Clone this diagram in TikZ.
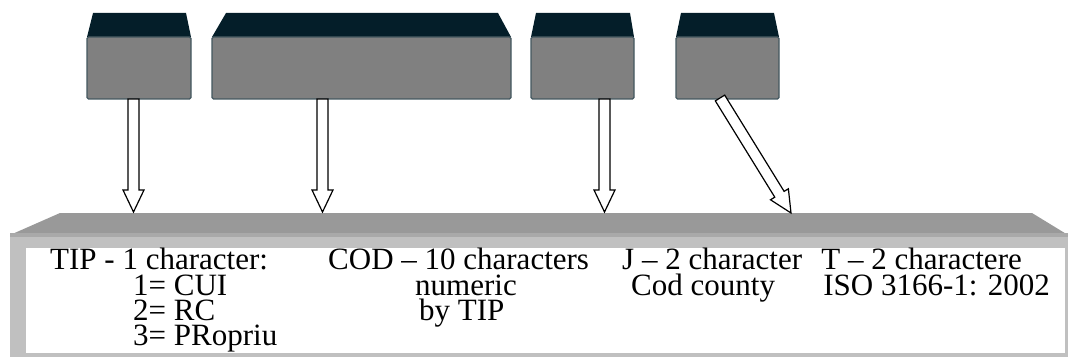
\documentclass[tikz,border=0pt]{standalone}
\usepackage{fontspec}
\setmainfont{Liberation Serif}
\usetikzlibrary{calc}
\definecolor{topdark}{HTML}{041E29}
\definecolor{boxgray}{HTML}{808080}
\definecolor{boxedge}{HTML}{43575F}
\definecolor{slabtop}{HTML}{999999}
\definecolor{slabband}{HTML}{A9A9A9}
\definecolor{slabframe}{HTML}{C0C0C0}
\tikzset{
  frontbox/.style={draw=boxedge, line width=1.3pt, fill=boxgray, rounded corners=1.5pt, inner sep=0pt},
  topface/.style={fill=topdark},
  blockarrow/.style={draw=black, line width=1.2pt, fill=white, line join=miter},
  lbl/.style={anchor=base west, inner sep=0pt, font=\fontsize{31}{31}\selectfont},
  lble/.style={lbl, anchor=base east},
}
\newcommand{\blockarr}[2]{%
  \draw[blockarrow] let \p1=(#1), \p2=(#2),
    \n1={atan2(\y2-\y1,\x2-\x1)}, \n2={veclen(\x2-\x1,\y2-\y1)} in
    [shift={(\p1)}, rotate=\n1]
    (0pt,5.5pt) -- ($(\n2,5.5pt)+(-22pt,0)$) -- ($(\n2,10.5pt)+(-22pt,0)$) -- (\n2,0pt)
    -- ($(\n2,-10.5pt)+(-22pt,0)$) -- ($(\n2,-5.5pt)+(-22pt,0)$) -- (0pt,-5.5pt) -- cycle;}
\begin{document}
\begin{tikzpicture}[x=1pt,y=-1pt]
\useasboundingbox (0,0) rectangle (1070,358);
% slab (bottom box)
\fill[slabtop] (60,213) -- (1032,213) -- (1068,235) -- (10,235) -- cycle;
\node[fill=slabframe, inner sep=0pt, minimum width=1058pt, minimum height=122pt, anchor=north west] (slab) at (10,235) {};
\fill[slabband] (10,233) rectangle (1068,237);
\node[fill=white, inner sep=0pt, minimum width=1039pt, minimum height=105pt, anchor=north west] (inner) at (26,248) {};
% top boxes
\fill[topface] (93,13) -- (186,13) -- (191,37) -- (87,37) -- cycle;
\node[frontbox, minimum width=104pt, minimum height=62pt] (b1) at (139,68) {};
\fill[topface] (226,13) -- (498,13) -- (511,37) -- (212,37) -- cycle;
\node[frontbox, minimum width=299pt, minimum height=62pt] (b2) at (361.5,68) {};
\fill[topface] (536,13) -- (630,13) -- (634,37) -- (531,37) -- cycle;
\node[frontbox, minimum width=103pt, minimum height=62pt] (b3) at (582.5,68) {};
\fill[topface] (681,13) -- (774,13) -- (779,37) -- (676,37) -- cycle;
\node[frontbox, minimum width=103pt, minimum height=62pt] (b4) at (727.5,68) {};
% arrow ends on slab top
\coordinate (s1) at (133.5,212);
\coordinate (s2) at (322.5,212);
\coordinate (s3) at (604.5,212);
\coordinate (s4) at (791,213);
\coordinate (a1) at (133.5,99);
\coordinate (a2) at (322.5,99);
\coordinate (a3) at (604.5,99);
\coordinate (a4) at (720,98);
\blockarr{a1}{s1}
\blockarr{a2}{s2}
\blockarr{a3}{s3}
\blockarr{a4}{s4}
% texts
\node[lbl] (t1) at (50,269) {TIP - 1 character:};
\node[lbl] (t2) at (133,295) {1= CUI};
\node[lbl] (t3) at (133,320) {2= RC};
\node[lbl] (t4) at (133,345) {3= PRopriu};
\node[lbl] (c1) at (328,269) {COD – 10 characters};
\node[lbl] (c2) at (415,295) {numeric};
\node[lbl] (c3) at (419,320) {by TIP};
\node[lbl] (j1) at (622,269) {J – 2 character};
\node[lbl] (j2) at (631,295) {Cod county};
\node[lble] (k1) at (1022,269) {T – 2 charactere};
\node[lble] (k2) at (1050,295) {ISO 3166-1: 2002};
\end{tikzpicture}
\end{document}
